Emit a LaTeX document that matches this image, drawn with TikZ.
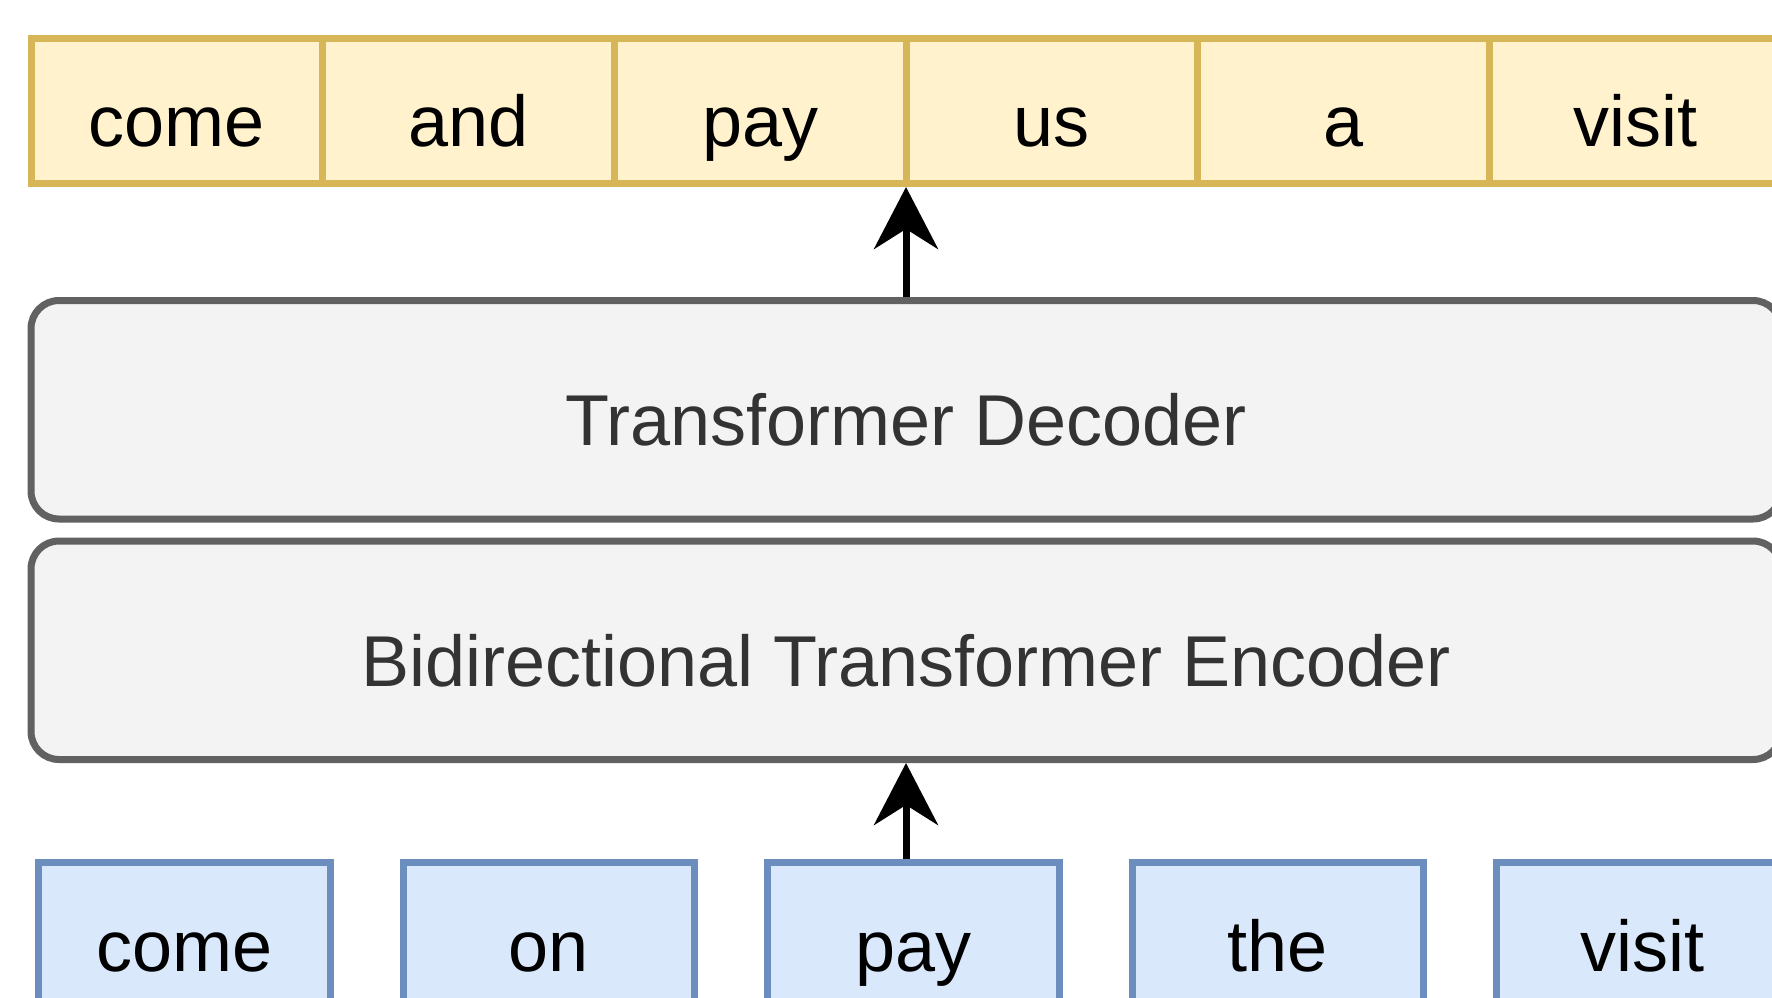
\documentclass[tikz,border=0pt]{standalone}
\usepackage{fontspec}
\setmainfont{Liberation Sans}
\usetikzlibrary{arrows.meta}

\definecolor{tokfill}{HTML}{FFF2CC}
\definecolor{tokline}{HTML}{D6B656}
\definecolor{srcfill}{HTML}{DAE8FC}
\definecolor{srcline}{HTML}{6C8EBF}
\definecolor{layfill}{HTML}{F3F3F3}
\definecolor{layline}{HTML}{616161}
\definecolor{laytext}{HTML}{333333}

\tikzset{
  word/.style={line width=3.5pt, inner sep=0pt, text height=36pt, text depth=0pt,
    font=\fontsize{36pt}{43pt}\selectfont},
  outtok/.style={word, draw=tokline, fill=tokfill, minimum width=145.85pt, minimum height=72.75pt},
  srctok/.style={word, draw=srcline, fill=srcfill, minimum width=145.75pt, minimum height=72.75pt},
  layer/.style={word, draw=layline, fill=layfill, text=laytext, rounded corners=14pt,
    minimum width=875pt, minimum height=109.25pt},
  flow/.style={line width=3.5pt, arrows={-Stealth[length=31pt, width=32pt, inset=10pt]}}
}

\begin{document}
\begin{tikzpicture}[x=0.5pt, y=-0.5pt]
  \useasboundingbox (0,0) rectangle (1772,997);
  \clip (0,0) rectangle (1772,997);

  % output tokens
  \node[outtok] (o1) at (176.85,110.75) {come};
  \node[outtok] (o2) at (468.55,110.75) {and};
  \node[outtok] (o3) at (760.25,110.75) {pay};
  \node[outtok] (o4) at (1051.95,110.75) {us};
  \node[outtok] (o5) at (1343.65,110.75) {a};
  \node[outtok] (o6) at (1635.35,110.75) {visit};

  % model layers
  \node[layer] (dec) at (906,409.75) {Transformer Decoder};
  \node[layer] (enc) at (906,650.25) {Bidirectional Transformer Encoder};

  % corrupted input tokens
  \node[srctok] (i1) at (184.25,935.25) {come};
  \node[srctok] (i2) at (548.75,935.25) {on};
  \node[srctok] (i3) at (913.25,935.25) {pay};
  \node[srctok] (i4) at (1277.75,935.25) {the};
  \node[srctok] (i5) at (1642.25,935.25) {visit};

  % data flow
  \draw[flow] (dec.north) -- (dec.north |- o3.south);
  \draw[flow] (enc.south |- i3.north) -- (enc.south);
\end{tikzpicture}
\end{document}
